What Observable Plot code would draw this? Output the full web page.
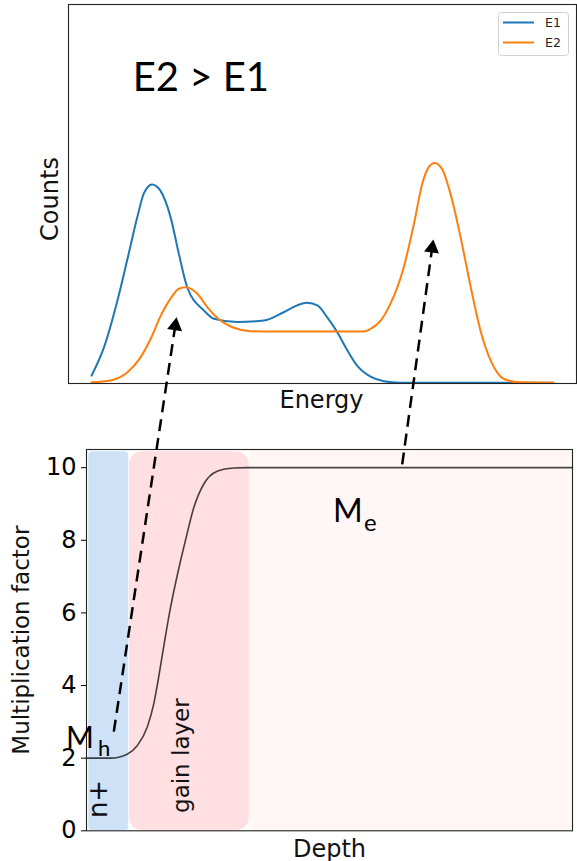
<!DOCTYPE html>
<html>
<head>
<meta charset="utf-8">
<script src="https://cdn.jsdelivr.net/npm/d3@7"></script>
<script src="https://cdn.jsdelivr.net/npm/@observablehq/plot@0.6"></script>
<style>
  html, body { margin: 0; padding: 0; background: #fff; }
  #fig { position: relative; width: 577px; height: 861px; overflow: hidden; }
  #fig > svg { position: absolute; left: 0; top: 0; }
</style>
</head>
<body>
<div id="fig"></div>
<script>
// ---------------- Data ----------------
const seriesNames = ["E1", "E2"];
const seriesColors = ["#1f77b4", "#ff7f0e"];

// Energy spectrum, E1 (arbitrary units)
const energyE1 = [0, 0.27, 0.56, 0.77, 0.99, 1.13, 1.31, 1.49, 1.71, 1.89, 2.07, 2.43, 2.65, 3.16, 3.73, 4.16, 4.45, 4.67, 4.89, 5.10, 5.32, 5.54, 5.75, 6.04, 6.33, 6.69, 8.0, 10];
const countsE1 = [2.1, 9.6, 21.9, 32.5, 43.9, 50.1, 52.5, 50.9, 43.9, 34.2, 25.4, 19.3, 17.1, 16.2, 16.6, 18.8, 20.6, 21.3, 20.6, 17.5, 13.5, 8.7, 4.7, 1.8, 0.6, 0.2, 0.2, 0.2];

// Energy spectrum, E2
const energyE2 = [0, 0.41, 0.77, 1.06, 1.28, 1.49, 1.71, 1.89, 2.04, 2.29, 2.51, 2.79, 3.08, 3.44, 3.88, 4.6, 5.3, 5.89, 6.04, 6.26, 6.47, 6.76, 6.98, 7.16, 7.30, 7.43, 7.59, 7.77, 7.99, 8.21, 8.42, 8.64, 8.93, 9.29, 10];
const countsE2 = [0.3, 0.8, 2.9, 6.9, 11.8, 17.7, 22.4, 25.0, 25.4, 23.7, 20.1, 16.6, 14.7, 13.8, 13.7, 13.7, 13.7, 13.7, 14.4, 16.6, 21.0, 30.7, 42.1, 52.7, 57.1, 58.2, 56.6, 50.1, 38.6, 25.4, 14.0, 6.1, 1.2, 0.3, 0.2];

// Multiplication factor vs depth
const depth = [0, 4.94, 8.37, 10.43, 12.49, 13.85, 14.55, 15.8, 17.08, 18.7, 20.37, 22.08, 24.14, 26.89, 30.31, 33.07, 60, 100];
const multiplication = [2.0, 2.0, 2.11, 2.34, 2.85, 3.5, 4.0, 5.0, 6.0, 7.05, 8.0, 8.9, 9.55, 9.9, 9.99, 10, 10, 10];
const yTicks = [0, 2, 4, 6, 8, 10];

// Depth regions
const regionNames = ["n+", "gain layer", "bulk"];
const regionStart = [0.47, 8.85, 33.5];
const regionEnd = [8.7, 33.5, 100];
const regionTop = [10.44, 10.44, 10.5];

// Annotations (bottom panel, depth / multiplication units)
const annoText = ["n+", "gain layer", "M", "h", "M", "e"];
const annoDepth = [4.26, 20.99, -4.2, -4.2, 50.7, 50.7];
const annoMult = [0.876, 2.07, 2.29, 2.29, 8.49, 8.49];

// Title annotation (top panel, energy / counts units)
const titleText = "E2 > E1";
const titleEnergy = 0.89;
const titleCounts = 77.1;

// Arrows: from (depth, multiplication) to (energy, counts)
const arrowFromDepth = [5.62, 64.96];
const arrowFromMult = [2.73, 10.09];
const arrowToEnergy = [1.84, 7.40];
const arrowToCounts = [17.5, 38.0];

// ---------------- Build ----------------
const spectra = [
  ...energyE1.map((e, i) => ({series: "E1", energy: e, counts: countsE1[i]})),
  ...energyE2.map((e, i) => ({series: "E2", energy: e, counts: countsE2[i]}))
];
const profile = depth.map((d, i) => ({depth: d, m: multiplication[i]}));
const regions = regionNames.map((n, i) => ({name: n, x1: regionStart[i], x2: regionEnd[i], y1: 0, y2: regionTop[i]}));
const annos = annoText.map((t, i) => ({text: t, depth: annoDepth[i], m: annoMult[i]}));

const W = 577, H = 861;
const topPlot = Plot.plot({
  width: W, height: H,
  marginTop: 4, marginRight: 1, marginBottom: 478, marginLeft: 68,
  style: {background: "transparent", fontFamily: "DejaVu Sans"},
  x: {domain: [-0.5, 10.5], axis: null},
  y: {domain: [0, 100], axis: null},
  color: {domain: seriesNames, range: seriesColors},
  marks: [
    Plot.line(spectra, {x: "energy", y: "counts", z: "series", stroke: "series", strokeWidth: 2, curve: "monotone-x"}),
    Plot.frame({stroke: "#222", strokeWidth: 1.1}),
    Plot.text([{t: titleText, e: titleEnergy, c: titleCounts}], {x: "e", y: "c", text: "t", textAnchor: "start", lineAnchor: "bottom", fontSize: 40, fontFamily: "Lato", fill: "black"}),
    Plot.text(["Counts"], {text: d => d, frameAnchor: "left", rotate: -90, textAnchor: "middle", lineAnchor: "bottom", dx: -11, dy: 5, fontSize: 24, fontFamily: "DejaVu Sans", fill: "#111"}),
    Plot.text(["Energy"], {text: d => d, frameAnchor: "bottom", textAnchor: "middle", lineAnchor: "bottom", dx: -1, dy: 24.3, fontSize: 24, fontFamily: "DejaVu Sans", fill: "#111"})
  ]
});

const bMargins = {marginTop: 449, marginRight: 5, marginBottom: 30.7, marginLeft: 86};
const bxScale = Plot.scale({x: {domain: [0, 100], range: [bMargins.marginLeft, W - bMargins.marginRight]}});
const byScale = Plot.scale({y: {domain: [0, 10.5], range: [H - bMargins.marginBottom, bMargins.marginTop]}});
const tX = topPlot.scale("x"), tY = topPlot.scale("y");

const headR = 5.6;
const headTip = 2 * Math.sqrt(Math.PI * headR * headR / (3 * Math.sqrt(3)));
const arrows = arrowFromDepth.map((d, i) => {
  const sx = bxScale.apply(d), sy = byScale.apply(arrowFromMult[i]);
  const ex = tX.apply(arrowToEnergy[i]), ey = tY.apply(arrowToCounts[i]);
  const len = Math.hypot(ex - sx, ey - sy);
  const ux = (ex - sx) / len, uy = (ey - sy) / len;
  const cx = ex - ux * headTip, cy = ey - uy * headTip;
  return {d1: d, m1: arrowFromMult[i], d2: bxScale.invert(cx), m2: byScale.invert(cy), angle: Math.atan2(ux, -uy) * 180 / Math.PI};
});

const bottomPlot = Plot.plot({
  width: W, height: H, ...bMargins,
  style: {background: "transparent", fontFamily: "DejaVu Sans"},
  x: {domain: [0, 100], axis: null},
  y: {domain: [0, 10.5]},
  marks: [
    Plot.rect([regions[2]], {x1: "x1", x2: "x2", y1: "y1", y2: "y2", fill: "#fff6f6"}),
    Plot.rect([regions[1]], {x1: "x1", x2: "x2", y1: "y1", y2: "y2", fill: "#ffdfe1", rx: 13, ry: 13}),
    Plot.rect([regions[0]], {x1: "x1", x2: "x2", y1: "y1", y2: "y2", fill: "#cde1f7", rx: 4, ry: 4}),
    Plot.line(profile, {x: "depth", y: "m", stroke: "black", strokeOpacity: 0.72, strokeWidth: 1.6, curve: "monotone-x"}),
    Plot.frame({stroke: "#222", strokeWidth: 1.1}),
    Plot.axisY({ticks: yTicks, tickSize: 5, tickPadding: 5, fontSize: 24, fontFamily: "DejaVu Sans", label: null}),
    Plot.text(["Multiplication factor"], {text: d => d, frameAnchor: "left", rotate: -90, textAnchor: "middle", lineAnchor: "bottom", dx: -57.7, fontSize: 23, fontFamily: "DejaVu Sans", fill: "#111"}),
    Plot.text(["Depth"], {text: d => d, frameAnchor: "bottom", textAnchor: "middle", lineAnchor: "bottom", dy: 25.7, fontSize: 24, fontFamily: "DejaVu Sans", fill: "#111"}),
    Plot.text([annos[0]], {x: "depth", y: "m", text: "text", rotate: -90, textAnchor: "middle", lineAnchor: "bottom", fontSize: 26, fontFamily: "DejaVu Sans", fill: "#111"}),
    Plot.text([annos[1]], {x: "depth", y: "m", text: "text", rotate: -90, textAnchor: "middle", lineAnchor: "bottom", fontSize: 23, fontFamily: "DejaVu Sans", fill: "#111"}),
    Plot.text([annos[2]], {x: "depth", y: "m", text: "text", textAnchor: "start", lineAnchor: "bottom", fontSize: 30, fontFamily: "Lato", fill: "black"}),
    Plot.text([annos[3]], {x: "depth", y: "m", text: "text", textAnchor: "start", lineAnchor: "bottom", dx: 32, dy: 8.2, fontSize: 22, fontFamily: "Lato", fill: "black"}),
    Plot.text([annos[4]], {x: "depth", y: "m", text: "text", textAnchor: "start", lineAnchor: "bottom", fontSize: 32, fontFamily: "Lato", fill: "black"}),
    Plot.text([annos[5]], {x: "depth", y: "m", text: "text", textAnchor: "start", lineAnchor: "bottom", dx: 31, dy: 9, fontSize: 24, fontFamily: "Lato", fill: "black"}),
    Plot.link(arrows, {x1: "d1", y1: "m1", x2: "d2", y2: "m2", stroke: "black", strokeWidth: 2.5, strokeDasharray: "12,7"}),
    Plot.dot(arrows, {x: "d2", y: "m2", symbol: "triangle", r: headR, fill: "black", stroke: "none", rotate: "angle"})
  ]
});

const fig = document.getElementById("fig");
fig.appendChild(topPlot);
fig.appendChild(bottomPlot);

// Legend
const leg = d3.select(fig).append("svg")
  .attr("width", 71).attr("height", 44)
  .style("position", "absolute").style("left", "498px").style("top", "12px");
leg.append("rect").attr("x", 0.5).attr("y", 0.5).attr("width", 70).attr("height", 43).attr("rx", 3)
  .attr("fill", "white").attr("fill-opacity", 0.85).attr("stroke", "#d2d2d2");
seriesNames.forEach((n, i) => {
  leg.append("line").attr("x1", 5).attr("x2", 36).attr("y1", 10.5 + 20 * i).attr("y2", 10.5 + 20 * i)
    .attr("stroke", seriesColors[i]).attr("stroke-width", 2);
  leg.append("text").attr("x", 47).attr("y", 15 + 20 * i).attr("font-family", "DejaVu Sans")
    .attr("font-size", 12.5).attr("fill", "#222").text(n);
});
</script>
</body>
</html>
